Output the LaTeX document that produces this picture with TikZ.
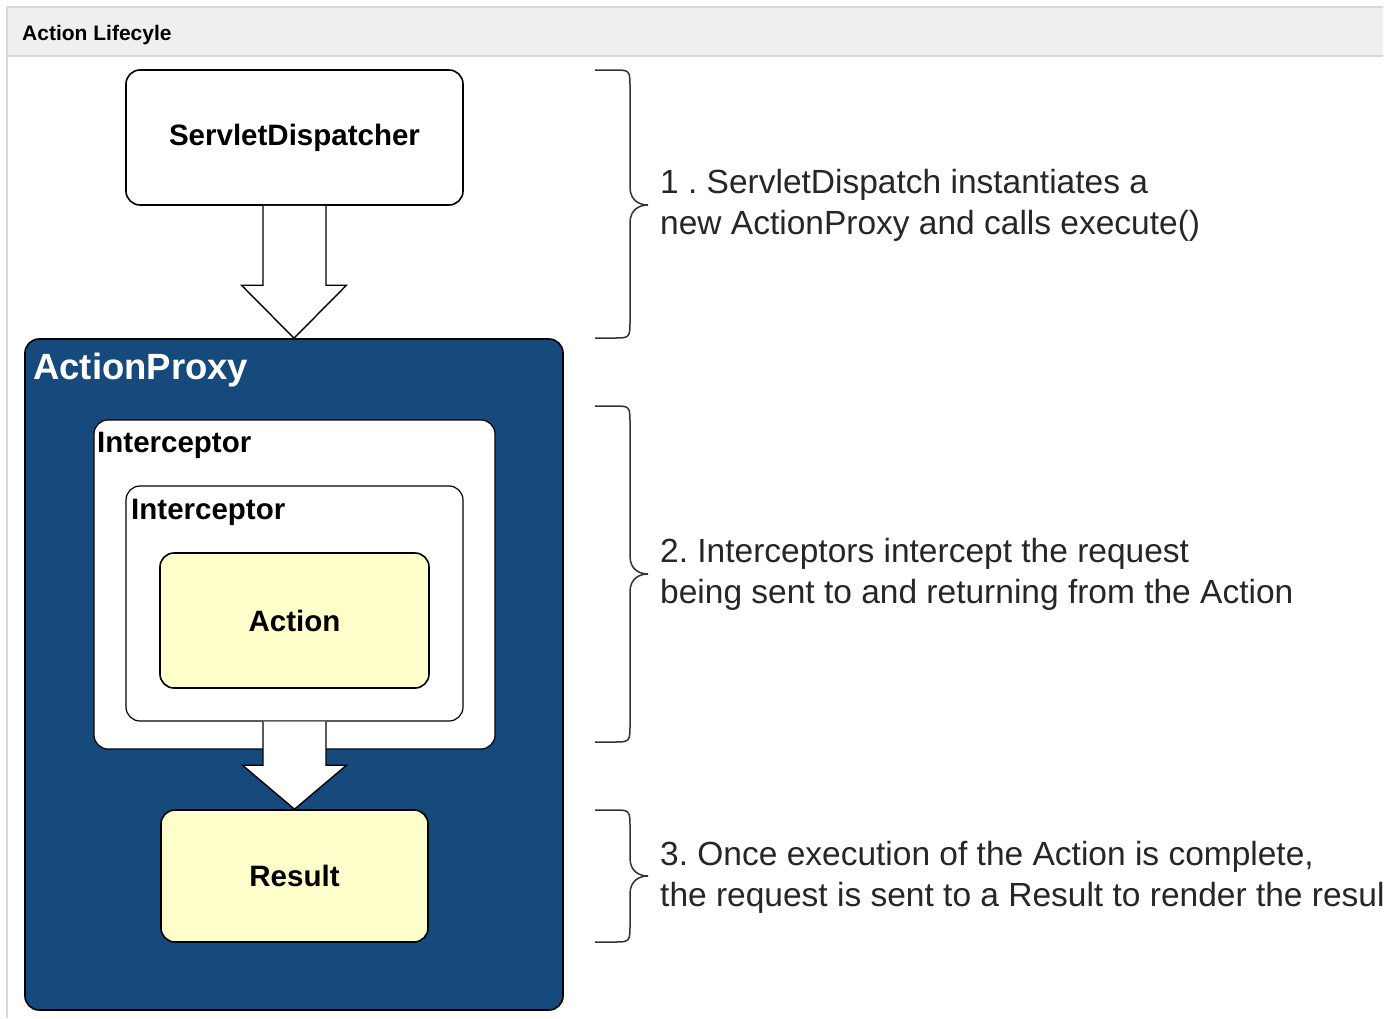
\documentclass[tikz,border=0pt]{standalone}
\usepackage{fontspec}
\setmainfont{Liberation Sans}
\usetikzlibrary{calc}
\frenchspacing

\definecolor{proxyblue}{HTML}{174A7C}
\definecolor{actionyellow}{HTML}{FFFFCC}
\definecolor{headergray}{HTML}{EFEFEF}
\definecolor{framegray}{HTML}{D9D9D9}

\tikzset{
  box/.style={draw=black, line width=1.6pt, rounded corners=14pt, fill=white,
    inner sep=0pt, font=\bfseries\fontsize{29.5}{35}\selectfont},
  yellowbox/.style={box, fill=actionyellow},
  boxlabel/.style={anchor=west, inner sep=0pt, font=\bfseries\fontsize{29.5}{35}\selectfont},
  blockarrow/.style={draw=black, line width=1.4pt, fill=white, line join=miter},
  steptext/.style={anchor=west, align=left, inner sep=0pt, text=black!85,
    font=\fontsize{33.5}{41}\selectfont},
  bracket/.style={line width=1.5pt, draw=black!80}
}

\begin{document}
\begin{tikzpicture}[x=1pt, y=-1pt]
  \useasboundingbox (0,0) rectangle (1400,1018);

  % Page header and frame
  \fill [headergray] (7,7) rectangle (1383,56);
  \draw [framegray, line width=2pt] (7,7) -- (1383,7);
  \draw [framegray, line width=2pt] (7,56) -- (1383,56);
  \draw [framegray, line width=2pt] (7,7) -- (7,1018);
  \node (title) [anchor=west, inner sep=0pt, font=\bfseries\fontsize{21}{25}\selectfont]
    at (22,35) {Action Lifecyle};

  % Servlet dispatcher
  \node (dispatcher) [box, minimum width=337pt, minimum height=135pt] at (294.5,137.5)
    {ServletDispatcher};

  % Action proxy and its nested boxes
  \node (proxy) [box, fill=proxyblue, minimum width=538pt, minimum height=671pt] at (294,674.5) {};
  \node (proxylabel) [boxlabel, text=white, font=\bfseries\fontsize{36.5}{44}\selectfont]
    at (33,370) {ActionProxy};

  \node (outerint) [box, line width=1.2pt, minimum width=401pt, minimum height=329pt] at (294.5,584.5) {};
  \node (outerlabel) [boxlabel] at (97,445) {Interceptor};

  \node (innerint) [box, line width=1.2pt, minimum width=337pt, minimum height=235pt] at (294.5,603.5) {};
  \node (innerlabel) [boxlabel] at (131,512) {Interceptor};

  \node (action) [yellowbox, minimum width=269pt, minimum height=135pt] at (294.5,620.5) {Action};
  \node (result) [yellowbox, minimum width=267pt, minimum height=132pt] at (294.5,876) {Result};

  % Block arrow dispatcher -> proxy
  \draw [blockarrow] ($(dispatcher.south)+(-31.5,0)$) |- ($(proxy.north)+(-52.5,-53)$)
    -- (proxy.north) -- ($(proxy.north)+(52.5,-53)$) -| ($(dispatcher.south)+(31.5,0)$);

  % Block arrow interceptors -> result
  \draw [blockarrow] ($(innerint.south)+(-31.5,0)$) |- ($(result.north)+(-52,-44)$)
    -- (result.north) -- ($(result.north)+(52,-44)$) -| ($(innerint.south)+(31.5,0)$);

  % Brace for step 1
  \draw [bracket] (595,70) -- (613,70) .. controls (630,70) .. (630,88) -- (630,187)
    .. controls (630,201) and (640,205) .. (648,205)
    .. controls (640,205) and (630,209) .. (630,223) -- (630,320)
    .. controls (630,338) .. (613,338) -- (595,338);

  % Brace for step 2
  \draw [bracket] (595,406) -- (613,406) .. controls (630,406) .. (630,424) -- (630,556)
    .. controls (630,570) and (640,574) .. (648,574)
    .. controls (640,574) and (630,578) .. (630,592) -- (630,724)
    .. controls (630,742) .. (613,742) -- (595,742);

  % Brace for step 3
  \draw [bracket] (595,810) -- (613,810) .. controls (630,810) .. (630,828) -- (630,858)
    .. controls (630,872) and (640,876) .. (648,876)
    .. controls (640,876) and (630,880) .. (630,894) -- (630,924)
    .. controls (630,942) .. (613,942) -- (595,942);

  % Step descriptions
  \begin{scope}
    \clip (0,0) rectangle (1383,1018);
    \node (step1) [steptext] at (660,205)
      {1 . ServletDispatch instantiates a\\new ActionProxy and calls execute()};
    \node (step2) [steptext] at (660,574.5)
      {2. Interceptors intercept the request\\being sent to and returning from the Action};
    \node (step3) [steptext] at (660,877)
      {3. Once execution of the Action is complete,\\the request is sent to a Result to render the result};
  \end{scope}
\end{tikzpicture}
\end{document}
